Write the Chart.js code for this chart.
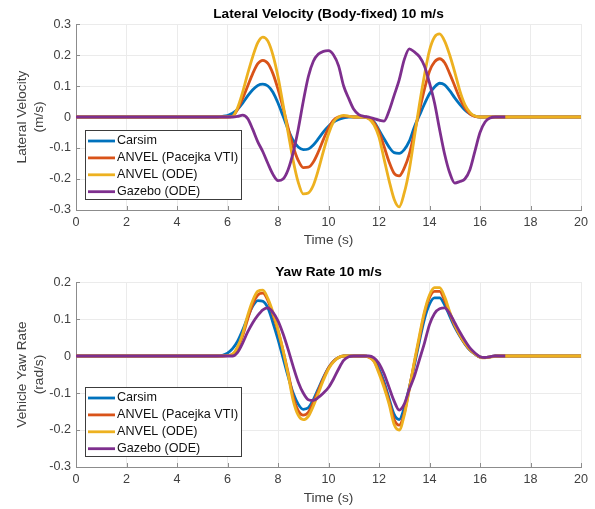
<!DOCTYPE html>
<html>
<head>
<meta charset="utf-8">
<script src="https://cdn.jsdelivr.net/npm/chart.js@4"></script>
<style>
  body { margin: 0; background: #fff; }
  .panel { position: absolute; left: 0; width: 595px; }
  #top { top: 0; height: 250px; }
  #bottom { top: 250px; height: 259px; }
</style>
</head>
<body>
<div class="panel" id="top"><canvas id="latChart"></canvas></div>
<div class="panel" id="bottom"><canvas id="yawChart"></canvas></div>
<script>
// sample times (s); Gazebo logs stop at 17 s
const time = [0,
  5.6, 5.8, 6.0, 6.2, 6.4, 6.6, 6.8, 7.0, 7.2, 7.4,
  7.6, 7.8, 8.0, 8.2, 8.4, 8.6, 8.8, 9.0, 9.2, 9.4,
  9.6, 9.8, 10.0, 10.2, 10.4, 10.6, 10.8, 11.0, 11.2, 11.4,
  11.6, 11.8, 12.0, 12.2, 12.4, 12.6, 12.8, 13.0, 13.2, 13.4,
  13.6, 13.8, 14.0, 14.2, 14.4, 14.6, 14.8, 15.0, 15.2, 15.4,
  15.6, 15.8, 16.0, 16.2, 16.4, 16.6, 16.8, 17.0,
  20];

const seriesNames = ["Carsim", "ANVEL (Pacejka VTI)", "ANVEL (ODE)", "Gazebo (ODE)"];
const seriesColors = ["#0072BD", "#D95319", "#EDB120", "#7E2F8E"];

// lateral velocity (m/s)
const latCarsim = [0,
  0, 0.002, 0.005, 0.012, 0.025, 0.045, 0.068, 0.088, 0.102, 0.106,
  0.1, 0.08, 0.045, 0.003, -0.04, -0.075, -0.097, -0.105, -0.103, -0.09,
  -0.07, -0.048, -0.03, -0.016, -0.008, -0.003, 0, 0, 0, 0,
  -0.004, -0.015, -0.042, -0.07, -0.097, -0.115, -0.117, -0.105, -0.078, -0.032,
  0.005, 0.042, 0.075, 0.097, 0.109, 0.104, 0.085, 0.062, 0.041, 0.023,
  0.01, 0.003, 0, 0, 0, 0, 0, 0,
  0];
const latPacejka = [0,
  0, 0, 0, 0.002, 0.025, 0.06, 0.1, 0.14, 0.172, 0.183,
  0.173, 0.14, 0.09, 0.03, -0.035, -0.095, -0.14, -0.163, -0.162, -0.145,
  -0.112, -0.072, -0.036, -0.01, 0, 0.003, 0.002, 0, 0, 0,
  -0.004, -0.018, -0.048, -0.095, -0.145, -0.182, -0.19, -0.165, -0.12, -0.05,
  0.02, 0.09, 0.148, 0.178, 0.188, 0.175, 0.14, 0.1, 0.06, 0.03,
  0.01, 0.002, 0, 0, 0, 0, 0, 0,
  0];
const latOde = [0,
  0, 0, 0, 0.002, 0.03, 0.08, 0.14, 0.195, 0.24, 0.258,
  0.245, 0.2, 0.13, 0.04, -0.05, -0.14, -0.21, -0.248, -0.245, -0.22,
  -0.17, -0.11, -0.055, -0.015, 0, 0.005, 0.003, 0, 0, 0,
  -0.006, -0.025, -0.065, -0.135, -0.205, -0.265, -0.29, -0.245, -0.17, -0.065,
  0.04, 0.135, 0.215, 0.258, 0.268, 0.245, 0.2, 0.145, 0.085, 0.04,
  0.015, 0.003, 0, 0, 0, 0, 0, 0,
  0];
const latGazebo = [0,
  0, 0, 0, 0, 0.002, 0.006, -0.005, -0.04, -0.08, -0.112,
  -0.15, -0.185, -0.205, -0.2, -0.17, -0.115, -0.04, 0.05, 0.13, 0.18,
  0.203, 0.212, 0.214, 0.2, 0.165, 0.1, 0.06, 0.025, 0.008, 0.002,
  0, -0.005, -0.01, -0.013, 0.02, 0.07, 0.12, 0.185, 0.22, 0.21,
  0.195, 0.165, 0.11, 0.045, -0.04, -0.12, -0.18, -0.213, -0.208, -0.2,
  -0.17, -0.11, -0.05, -0.016, -0.003, 0, 0, 0];

// yaw rate (rad/s)
const yawCarsim = [0,
  0, 0.002, 0.008, 0.02, 0.04, 0.07, 0.105, 0.135, 0.15, 0.148,
  0.13, 0.09, 0.045, -0.005, -0.055, -0.1, -0.13, -0.144, -0.14, -0.118,
  -0.088, -0.058, -0.032, -0.014, -0.004, 0, 0, 0, 0, 0,
  -0.002, -0.01, -0.035, -0.07, -0.115, -0.158, -0.172, -0.14, -0.085, -0.025,
  0.04, 0.1, 0.14, 0.157, 0.157, 0.138, 0.108, 0.078, 0.054, 0.033,
  0.016, 0.005, -0.003, -0.004, -0.002, 0, 0, 0,
  0];
const yawPacejka = [0,
  0, 0, 0.001, 0.004, 0.022, 0.055, 0.1, 0.14, 0.165, 0.17,
  0.15, 0.112, 0.068, 0.015, -0.045, -0.11, -0.148, -0.16, -0.152, -0.125,
  -0.093, -0.06, -0.032, -0.014, -0.004, 0, 0, 0, 0, 0,
  -0.003, -0.013, -0.042, -0.078, -0.122, -0.172, -0.187, -0.155, -0.088, -0.018,
  0.048, 0.115, 0.158, 0.175, 0.175, 0.15, 0.115, 0.082, 0.056, 0.034,
  0.017, 0.006, -0.003, -0.004, -0.002, 0, 0, 0,
  0];
const yawOde = [0,
  0, 0, 0.001, 0.005, 0.025, 0.06, 0.11, 0.15, 0.175, 0.178,
  0.155, 0.118, 0.072, 0.015, -0.05, -0.12, -0.16, -0.172, -0.163, -0.135,
  -0.1, -0.065, -0.035, -0.016, -0.004, 0, 0, 0, 0, 0,
  -0.003, -0.015, -0.047, -0.085, -0.13, -0.185, -0.2, -0.16, -0.09, -0.015,
  0.055, 0.12, 0.165, 0.185, 0.185, 0.16, 0.12, 0.085, 0.058, 0.035,
  0.018, 0.006, -0.003, -0.005, -0.003, -0.001, 0, 0,
  0];
const yawGazebo = [0,
  0, 0, 0, 0, 0.01, 0.035, 0.065, 0.09, 0.11, 0.125,
  0.13, 0.118, 0.095, 0.06, 0.018, -0.028, -0.07, -0.1, -0.118, -0.12,
  -0.112, -0.1, -0.085, -0.062, -0.035, -0.012, -0.002, 0, 0, 0,
  0, -0.005, -0.02, -0.048, -0.085, -0.122, -0.146, -0.13, -0.09, -0.055,
  -0.01, 0.035, 0.085, 0.115, 0.128, 0.13, 0.115, 0.09, 0.065, 0.042,
  0.022, 0.008, -0.002, -0.004, -0.002, 0, 0, 0];

const timeTicks = [0, 2, 4, 6, 8, 10, 12, 14, 16, 18, 20];
const latTicks = [-0.3, -0.2, -0.1, 0, 0.1, 0.2, 0.3];
const yawTicks = [-0.3, -0.2, -0.1, 0, 0.1, 0.2];

Chart.defaults.font.family = '"Liberation Sans", Arial, sans-serif';
Chart.defaults.animation = false;

const axisGray = "#8c8c8c";
const labelGray = "#404040";

// inward tick marks on the left and bottom axes
const innerTicks = {
  id: "innerTicks",
  beforeDatasetsDraw(chart) {
    const { ctx, chartArea: a, scales: { x, y } } = chart;
    ctx.save();
    ctx.strokeStyle = axisGray;
    ctx.lineWidth = 1;
    ctx.beginPath();
    x.ticks.forEach(t => {
      const px = Math.round(x.getPixelForValue(t.value)) + 0.5;
      ctx.moveTo(px, a.bottom);
      ctx.lineTo(px, a.bottom - 4);
    });
    y.ticks.forEach(t => {
      const py = Math.round(y.getPixelForValue(t.value)) + 0.5;
      ctx.moveTo(a.left, py);
      ctx.lineTo(a.left + 4, py);
    });
    ctx.stroke();
    ctx.restore();
  }
};

// boxed legend sitting in the lower-left corner of the plot
const boxLegend = {
  id: "boxLegend",
  afterDatasetsDraw(chart) {
    const { ctx, chartArea: a } = chart;
    const w = 156, h = 69;
    const x0 = Math.round(a.left + 9), y0 = Math.round(a.bottom - 11.5 - h);
    ctx.save();
    ctx.fillStyle = "#fff";
    ctx.fillRect(x0, y0, w, h);
    ctx.strokeStyle = "#3c3c3c";
    ctx.lineWidth = 1;
    ctx.strokeRect(x0 + 0.5, y0 + 0.5, w, h);
    ctx.font = '12.6px "Liberation Sans", Arial, sans-serif';
    ctx.textBaseline = "middle";
    seriesNames.forEach((name, i) => {
      const ly = y0 + 11 + i * 16.9;
      ctx.strokeStyle = seriesColors[i];
      ctx.lineWidth = 2.8;
      ctx.beginPath();
      ctx.moveTo(x0 + 3, ly);
      ctx.lineTo(x0 + 30, ly);
      ctx.stroke();
      ctx.fillStyle = "#111";
      ctx.fillText(name, x0 + 32, ly);
    });
    ctx.restore();
  }
};

function makeChart(id, opt) {
  const datasets = opt.series.map((vals, i) => ({
    label: seriesNames[i],
    data: vals.map((v, k) => ({ x: time[k], y: v })),
    borderColor: seriesColors[i],
    backgroundColor: seriesColors[i],
    borderWidth: 2.8,
    pointRadius: 0,
    cubicInterpolationMode: "monotone",
    order: 4 - i // later series drawn on top
  }));
  return new Chart(id, {
    type: "line",
    data: { datasets },
    plugins: [innerTicks, boxLegend],
    options: {
      responsive: true,
      maintainAspectRatio: false,
      devicePixelRatio: 1,
      layout: { padding: { left: 0, right: 14, top: 0, bottom: 0 } },
      plugins: {
        legend: { display: false },
        tooltip: { enabled: false },
        title: {
          display: true,
          text: opt.title,
          color: "#000",
          fullSize: false,
          font: { size: 13.7, weight: "bold" },
          padding: { top: opt.titleTop, bottom: 1.6 }
        }
      },
      scales: {
        x: {
          type: "linear",
          min: 0,
          max: 20,
          afterBuildTicks: s => { s.ticks = timeTicks.map(v => ({ value: v })); },
          afterFit: s => { s.height = opt.xHeight; },
          grid: { color: "#ebebeb", drawTicks: false },
          border: { color: axisGray },
          ticks: { padding: 5, color: labelGray, font: { size: 12.6 }, maxRotation: 0, autoSkip: false },
          title: {
            display: true,
            text: "Time (s)",
            color: labelGray,
            font: { size: 13.7, lineHeight: 1.2 },
            padding: { top: 0, bottom: opt.xTitleBottom }
          }
        },
        y: {
          type: "linear",
          min: opt.yTicks[0],
          max: opt.yTicks[opt.yTicks.length - 1],
          afterBuildTicks: s => { s.ticks = opt.yTicks.map(v => ({ value: v })); },
          afterFit: s => { s.width = 76; },
          grid: { color: "#ebebeb", drawTicks: false },
          border: { color: axisGray },
          ticks: { padding: 5, color: labelGray, font: { size: 12.6 }, callback: v => String(v) },
          title: {
            display: true,
            text: opt.yTitle,
            color: labelGray,
            font: { size: 13.7, lineHeight: 1.25 },
            padding: { top: 13.4, bottom: 0 }
          }
        }
      }
    }
  });
}

makeChart("latChart", {
  title: "Lateral Velocity (Body-fixed) 10 m/s",
  yTitle: ["Lateral Velocity", "(m/s)"],
  yTicks: latTicks,
  series: [latCarsim, latPacejka, latOde, latGazebo],
  titleTop: 6,
  xHeight: 40,
  xTitleBottom: 1.8
});

makeChart("yawChart", {
  title: "Yaw Rate 10 m/s",
  yTitle: ["Vehicle Yaw Rate", "(rad/s)"],
  yTicks: yawTicks,
  series: [yawCarsim, yawPacejka, yawOde, yawGazebo],
  titleTop: 14,
  xHeight: 42,
  xTitleBottom: 2.5
});
</script>
</body>
</html>
